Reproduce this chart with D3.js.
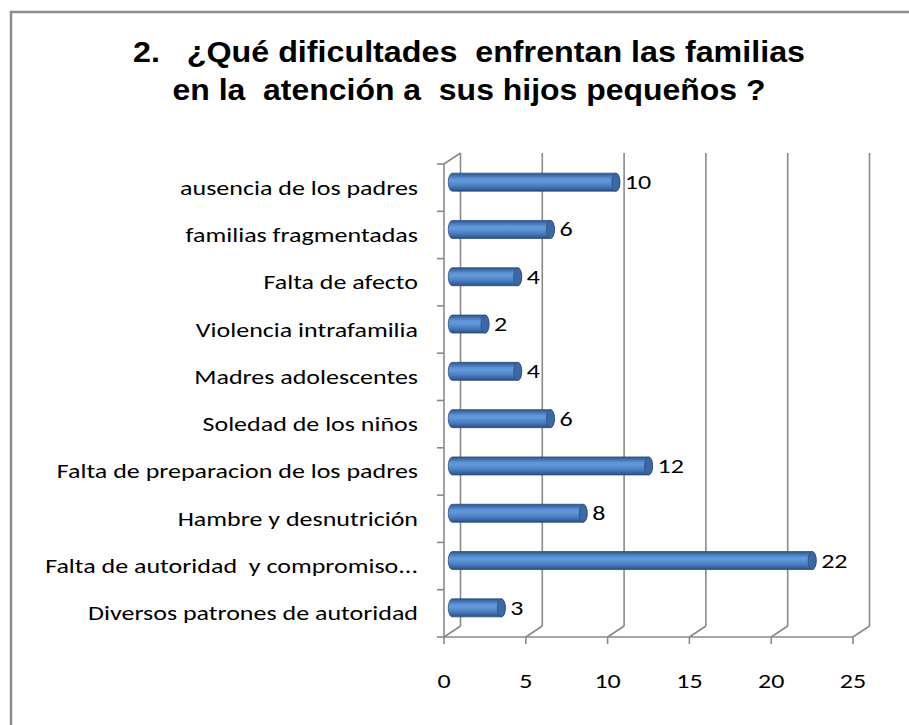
<!DOCTYPE html>
<html>
<head>
<meta charset="utf-8">
<script src="https://cdn.jsdelivr.net/npm/d3@7"></script>
<style>
  body { margin: 0; background: #fff; }
  svg { display: block; }
</style>
</head>
<body>
<div id="chart"></div>
<script>
// data (top to bottom)
const categories = [
  "ausencia de los padres",
  "familias fragmentadas",
  "Falta de afecto",
  "Violencia intrafamilia",
  "Madres adolescentes",
  "Soledad de los niños",
  "Falta de preparacion de los padres",
  "Hambre y desnutrición",
  "Falta de autoridad  y compromiso...",
  "Diversos patrones de autoridad"
];
const values = [10, 6, 4, 2, 4, 6, 12, 8, 22, 3];
const xTicks = [0, 5, 10, 15, 20, 25];
const titleLines = [
  "2.   ¿Qué dificultades  enfrentan las familias",
  "en la  atención a  sus hijos pequeños ?"
];
const titleWidths = [672, 593];

const W = 909, H = 725;
const gridColor = '#8a8a8a';
const labelFont = 'Carlito, "Open Sans", "Liberation Sans", sans-serif';
const sx = 1.3; // the original picture is stretched sideways

const svg = d3.select('#chart').append('svg')
  .attr('width', W)
  .attr('height', H);

// outer chart border (runs off the right/bottom of the shot)
svg.append('rect')
  .attr('x', 11).attr('y', 12)
  .attr('width', W + 20).attr('height', H + 20)
  .attr('fill', '#fff')
  .attr('stroke', '#8c8c8c')
  .attr('stroke-width', 2.5);

// title
svg.append('g')
  .selectAll('text')
  .data(titleLines)
  .join('text')
  .attr('x', 469)
  .attr('y', (d, i) => 62 + i * 38)
  .attr('text-anchor', 'middle')
  .attr('textLength', (d, i) => titleWidths[i])
  .attr('lengthAdjust', 'spacingAndGlyphs')
  .attr('xml:space', 'preserve')
  .style('white-space', 'pre')
  .style('font-family', '"Liberation Sans", Arial, sans-serif')
  .style('font-weight', 'bold')
  .style('font-size', '29px')
  .style('fill', '#000')
  .text(d => d);

// 3d box geometry
const dx = 16.5, dy = -11;
const x = d3.scaleLinear().domain([0, 25]).range([444, 853]);
const y = d3.scaleBand().domain(categories).range([164, 637]);
const bottom = 637;

const grid = svg.append('g')
  .attr('stroke', gridColor)
  .attr('stroke-width', 1.6)
  .attr('fill', 'none');

// back wall gridlines
grid.selectAll('.vgrid')
  .data(xTicks)
  .join('line')
  .attr('x1', d => x(d) + dx).attr('x2', d => x(d) + dx)
  .attr('y1', y.range()[0] + dy).attr('y2', bottom + dy);

// floor diagonals
grid.selectAll('.floor')
  .data(xTicks)
  .join('line')
  .attr('x1', d => x(d)).attr('y1', bottom)
  .attr('x2', d => x(d) + dx).attr('y2', bottom + dy);

// floor front edge + bottom ticks
grid.append('line')
  .attr('x1', x(0)).attr('x2', x(25))
  .attr('y1', bottom).attr('y2', bottom);
grid.selectAll('.xtick')
  .data(xTicks)
  .join('line')
  .attr('x1', d => x(d)).attr('x2', d => x(d))
  .attr('y1', bottom).attr('y2', bottom + 7);

// left wall
grid.append('line')
  .attr('x1', x(0)).attr('x2', x(0))
  .attr('y1', y.range()[0]).attr('y2', bottom);
grid.append('line')
  .attr('x1', x(0)).attr('y1', y.range()[0])
  .attr('x2', x(0) + dx).attr('y2', y.range()[0] + dy);

// left ticks at category boundaries
const bounds = categories.map(c => y(c)).concat([bottom]);
grid.selectAll('.ytick')
  .data(bounds)
  .join('line')
  .attr('x1', x(0) - 7).attr('x2', x(0))
  .attr('y1', d => d).attr('y2', d => d);

// cylinder gradient
const defs = svg.append('defs');
const grad = defs.append('linearGradient')
  .attr('id', 'cyl')
  .attr('x1', 0).attr('y1', 0).attr('x2', 0).attr('y2', 1);
[
  [0, '#2d5587'], [0.12, '#3f6eac'], [0.32, '#5f95d8'],
  [0.45, '#6199da'], [0.7, '#4b7fc2'], [0.9, '#36619a'], [1, '#264a78']
].forEach(s => grad.append('stop').attr('offset', s[0]).attr('stop-color', s[1]));

const barH = 18, rx = 4;
const bars = svg.append('g')
  .selectAll('g')
  .data(categories.map((c, i) => ({ c, v: values[i] })))
  .join('g')
  .attr('transform', d => `translate(0,${y(d.c) + y.bandwidth() / 2 + dy / 2})`);

const x0 = x(0) + dx / 2;
bars.append('path')
  .attr('d', d => {
    const xe = x(d.v) + dx / 2;
    const h = barH / 2;
    return `M${x0},${-h} L${xe},${-h} A${rx},${h} 0 0 1 ${xe},${h} L${x0},${h} A${rx},${h} 0 0 1 ${x0},${-h} Z`;
  })
  .attr('fill', 'url(#cyl)')
  .attr('stroke', '#2b5080')
  .attr('stroke-width', 0.8);

// right end cap
bars.append('ellipse')
  .attr('cx', d => x(d.v) + dx / 2)
  .attr('cy', 0)
  .attr('rx', rx).attr('ry', barH / 2)
  .attr('fill', '#3b69a5')
  .attr('stroke', '#2b5080')
  .attr('stroke-width', 0.8);

// value labels
bars.append('text')
  .attr('transform', d => `translate(${x(d.v) + dx / 2 + rx + 5},0) scale(${sx},1)`)
  .attr('dy', '0.35em')
  .style('font-family', labelFont)
  .style('font-size', '20px')
  .style('fill', '#000')
  .text(d => d.v);

// category labels
svg.append('g')
  .selectAll('text')
  .data(categories)
  .join('text')
  .attr('transform', d => `translate(418,${y(d) + y.bandwidth() / 2}) scale(${sx},1)`)
  .attr('dy', '0.35em')
  .attr('text-anchor', 'end')
  .attr('xml:space', 'preserve')
  .style('white-space', 'pre')
  .style('font-family', labelFont)
  .style('font-size', '20px')
  .style('fill', '#000')
  .text(d => d);

// x tick labels
svg.append('g')
  .selectAll('text')
  .data(xTicks)
  .join('text')
  .attr('transform', d => `translate(${x(d)},681) scale(${sx},1)`)
  .attr('dy', '0.35em')
  .attr('text-anchor', 'middle')
  .style('font-family', labelFont)
  .style('font-size', '20px')
  .style('fill', '#000')
  .text(d => d);
</script>
</body>
</html>
